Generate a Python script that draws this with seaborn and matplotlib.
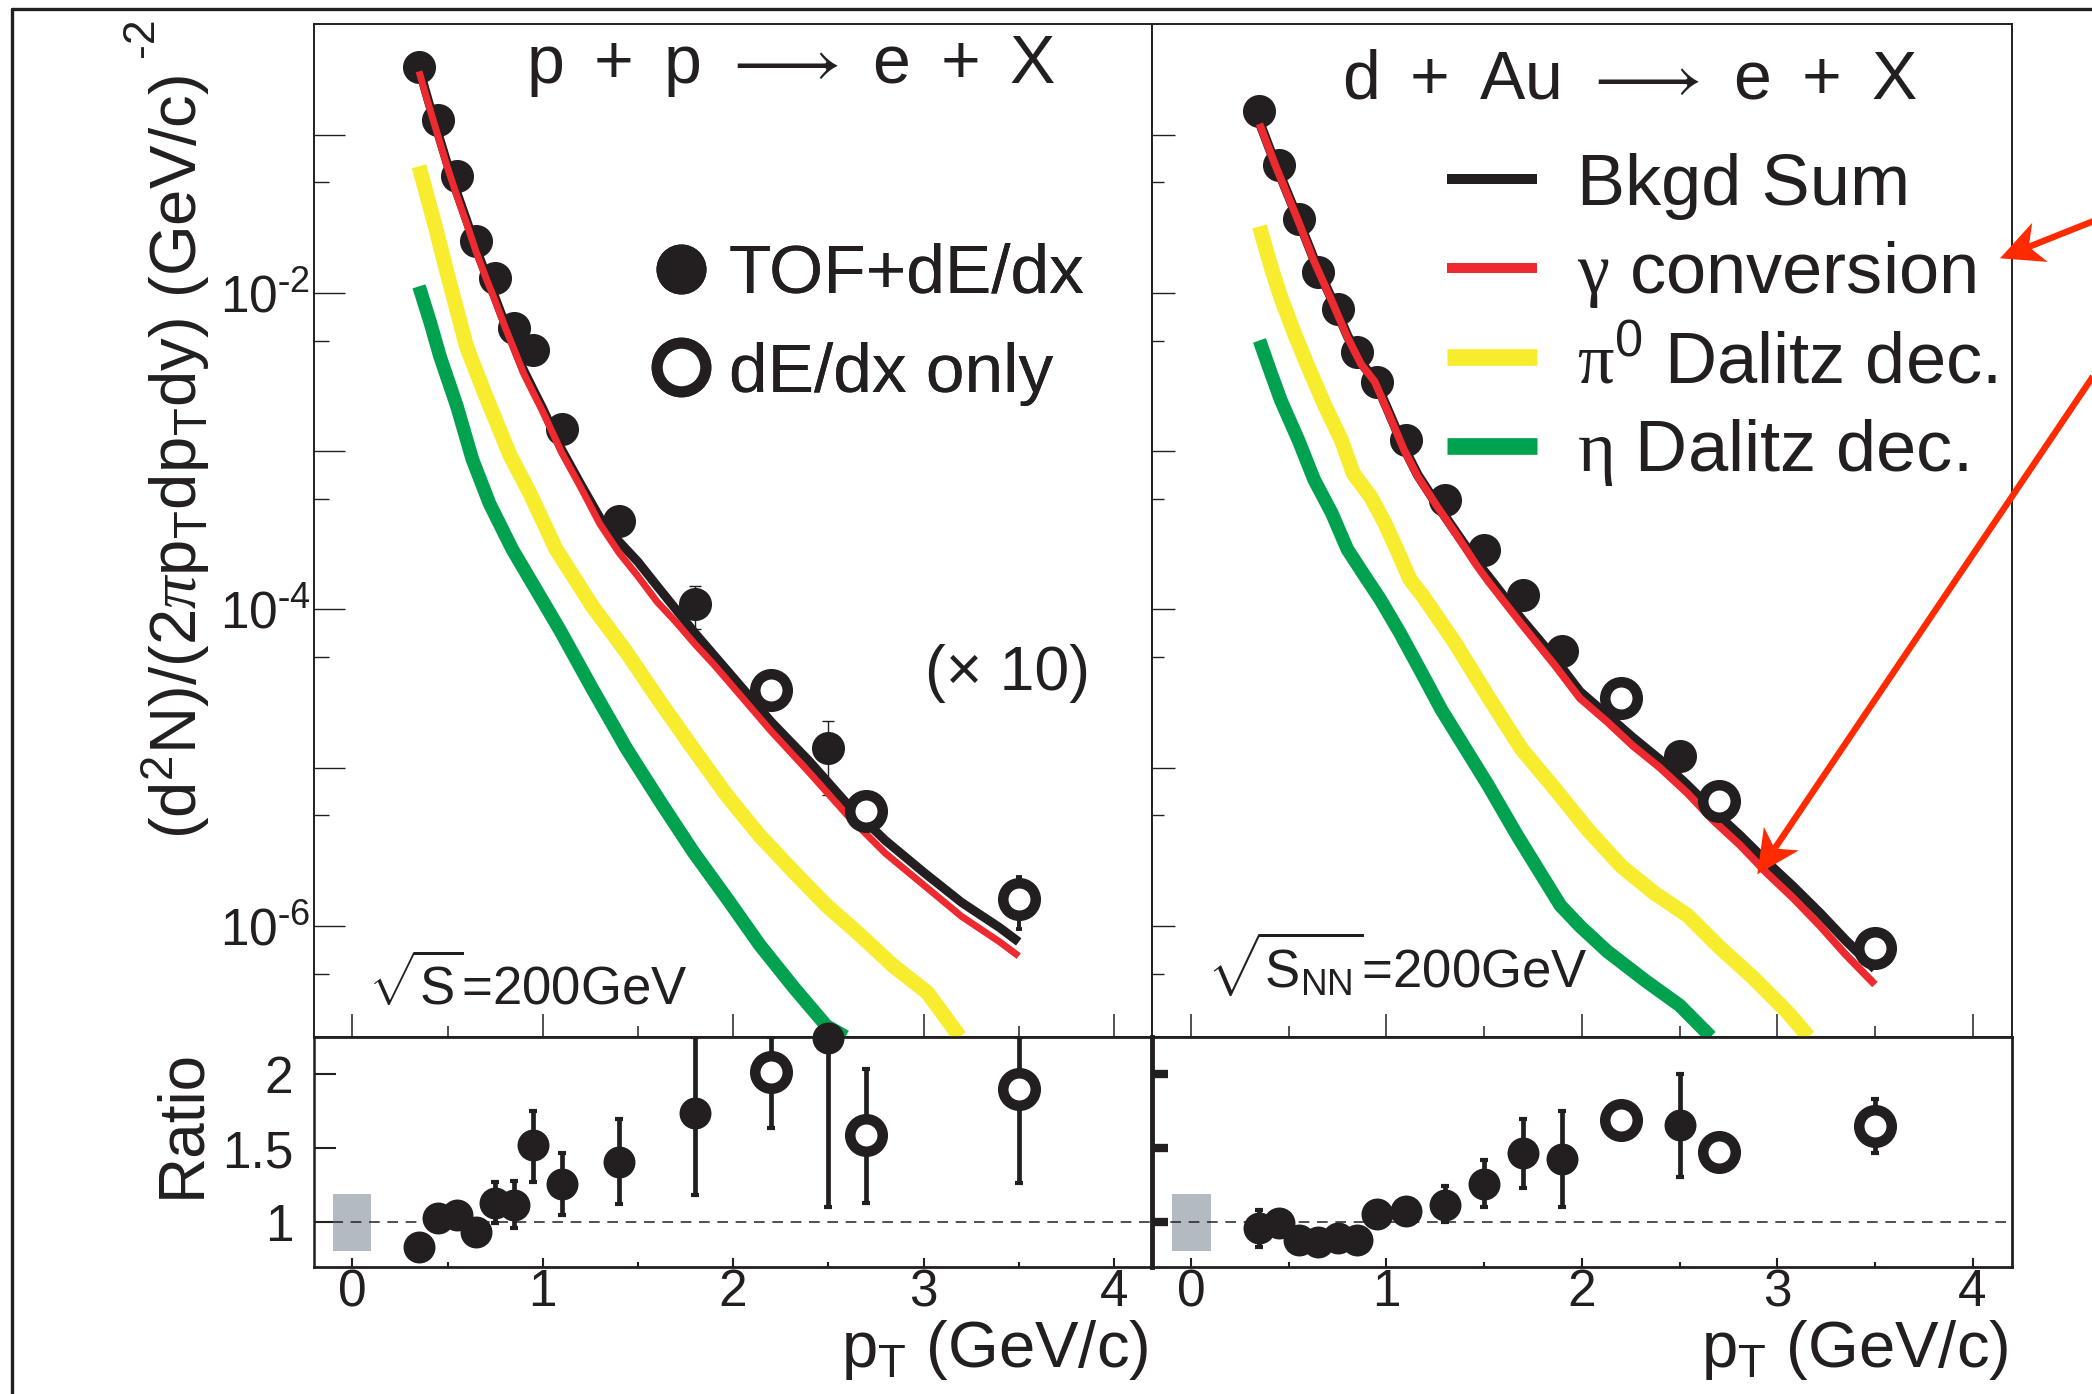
import matplotlib
matplotlib.use("Agg")
import numpy as np
import matplotlib.pyplot as plt
import seaborn as sns
from matplotlib.lines import Line2D
from matplotlib.patches import Rectangle, Polygon
from matplotlib.ticker import FixedLocator, NullFormatter

# ---------------- measured electron spectra (yields, p+p scaled x10) ----------------
pp_tof_pt = [0.35, 0.45, 0.55, 0.65, 0.75, 0.85, 0.95, 1.1, 1.4, 1.8, 2.5]
pp_tof_y = [2.69e-1, 1.23e-1, 5.46e-2, 2.13e-2, 1.24e-2, 5.97e-3, 4.39e-3, 1.38e-3, 3.64e-4, 1.08e-4, 1.33e-5]
pp_tof_lo = [2.69e-1, 1.23e-1, 5.46e-2, 2.13e-2, 1.24e-2, 5.97e-3, 4.39e-3, 1.38e-3, 3.64e-4, 7.5e-5, 6.7e-6]
pp_tof_hi = [2.69e-1, 1.23e-1, 5.46e-2, 2.13e-2, 1.24e-2, 5.97e-3, 4.39e-3, 1.38e-3, 3.64e-4, 1.41e-4, 1.98e-5]
pp_dedx_pt = [2.2, 2.7, 3.5]
pp_dedx_y = [3.09e-5, 5.32e-6, 1.49e-6]
pp_dedx_lo = [3.09e-5, 5.32e-6, 9.6e-7]
pp_dedx_hi = [3.09e-5, 5.32e-6, 2.04e-6]

da_tof_pt = [0.35, 0.45, 0.55, 0.65, 0.75, 0.85, 0.95, 1.1, 1.3, 1.5, 1.7, 1.9, 2.5]
da_tof_y = [1.42e-1, 6.44e-2, 2.94e-2, 1.36e-2, 7.97e-3, 4.21e-3, 2.72e-3, 1.18e-3, 4.94e-4, 2.39e-4, 1.24e-4, 5.47e-5, 1.19e-5]
da_dedx_pt = [2.2, 2.7, 3.5]
da_dedx_y = [2.75e-5, 6.21e-6, 7.31e-7]

# ---------------- ratio data / background ----------------
pp_tof_ratio = [0.83, 1.023, 1.045, 0.932, 1.13, 1.113, 1.52, 1.256, 1.407, 1.74, 2.244]
pp_tof_ratio_lo = [0.79, 0.98, 1.00, 0.89, 0.99, 0.955, 1.271, 1.045, 1.12, 1.18, 1.098]
pp_tof_ratio_hi = [0.87, 1.07, 1.09, 0.98, 1.27, 1.278, 1.753, 1.464, 1.70, 2.25, 2.25]
pp_dedx_ratio = [2.013, 1.588, 1.898]
pp_dedx_ratio_lo = [1.634, 1.125, 1.265]
pp_dedx_ratio_hi = [2.25, 2.034, 2.25]

da_tof_ratio = [0.955, 0.989, 0.876, 0.86, 0.887, 0.876, 1.052, 1.075, 1.113, 1.256, 1.468, 1.423, 1.656]
da_tof_ratio_lo = [0.83, 0.95, 0.84, 0.82, 0.85, 0.84, 1.01, 1.04, 1.00, 1.10, 1.227, 1.098, 1.305]
da_tof_ratio_hi = [1.08, 1.03, 0.92, 0.90, 0.93, 0.92, 1.09, 1.11, 1.24, 1.42, 1.70, 1.753, 2.00]
da_dedx_ratio = [1.69, 1.475, 1.649]
da_dedx_ratio_lo = [1.65, 1.44, 1.464]
da_dedx_ratio_hi = [1.73, 1.51, 1.83]

# normalisation uncertainty band at pT = 0
norm_band = [0.8, 1.19]

# ---------------- background cocktail curves ----------------
pp_sum_pt = [0.35, 0.40, 0.45, 0.50, 0.55, 0.60, 0.65, 0.70, 0.75, 0.80, 0.85, 0.90, 0.95, 1.00,
             1.10, 1.20, 1.30, 1.40, 1.50, 1.60, 1.70, 1.80, 1.90, 2.00, 2.20, 2.40, 2.60, 2.80,
             3.00, 3.20, 3.40, 3.50]
pp_sum = [0.263, 0.162, 0.102, 0.0646, 0.0427, 0.0288, 0.0191, 0.0132, 9.33e-3, 6.46e-3, 4.57e-3,
          3.24e-3, 2.45e-3, 1.86e-3, 1.02e-3, 6.17e-4, 3.80e-4, 2.69e-4, 2.00e-4, 1.41e-4, 1.00e-4,
          7.08e-5, 5.13e-5, 3.72e-5, 1.95e-5, 1.10e-5, 5.89e-6, 3.47e-6, 2.19e-6, 1.41e-6, 9.77e-7, 7.94e-7]
pp_gamma = [0.251, 0.155, 0.0977, 0.0617, 0.0407, 0.0275, 0.0182, 0.0126, 8.91e-3, 6.17e-3, 4.37e-3,
            3.09e-3, 2.34e-3, 1.78e-3, 9.77e-4, 5.89e-4, 3.47e-4, 2.29e-4, 1.62e-4, 1.12e-4, 8.32e-5,
            6.03e-5, 4.47e-5, 3.24e-5, 1.70e-5, 9.33e-6, 5.01e-6, 2.88e-6, 1.82e-6, 1.15e-6, 7.94e-7, 6.46e-7]
pp_pi0_pt = [0.35, 0.44, 0.49, 0.60, 0.70, 0.83, 0.93, 1.07, 1.26, 1.44, 1.62, 1.79, 1.97, 2.14,
             2.32, 2.49, 2.67, 2.84, 3.02, 3.19]
pp_pi0 = [6.31e-2, 2.51e-2, 1.45e-2, 4.57e-3, 2.24e-3, 9.33e-4, 5.50e-4, 2.40e-4, 1.05e-4, 5.37e-5,
          2.57e-5, 1.32e-5, 6.61e-6, 3.72e-6, 2.19e-6, 1.35e-6, 8.71e-7, 5.62e-7, 3.80e-7, 2.0e-7]
pp_eta_pt = [0.35, 0.41, 0.46, 0.55, 0.63, 0.72, 0.84, 1.09, 1.26, 1.44, 1.62, 1.79, 1.97, 2.14,
             2.32, 2.49, 2.59]
pp_eta = [1.10e-2, 6.46e-3, 3.98e-3, 1.91e-3, 8.91e-4, 4.68e-4, 2.40e-4, 7.41e-5, 3.16e-5, 1.32e-5,
          6.03e-6, 2.95e-6, 1.48e-6, 7.59e-7, 4.07e-7, 2.34e-7, 2.0e-7]

da_sum_pt = [0.35, 0.43, 0.48, 0.55, 0.63, 0.72, 0.80, 0.87, 0.94, 1.00, 1.09, 1.16, 1.26, 1.36,
             1.46, 1.52, 1.69, 1.86, 1.99, 2.13, 2.26, 2.40, 2.54, 2.67, 2.81, 2.95, 3.08, 3.22,
             3.35, 3.50]
da_sum = [0.120, 0.0661, 0.0468, 0.0288, 0.0162, 9.12e-3, 5.37e-3, 3.63e-3, 2.82e-3, 1.91e-3, 1.05e-3,
          7.08e-4, 4.57e-4, 3.02e-4, 2.00e-4, 1.62e-4, 8.71e-5, 4.90e-5, 3.02e-5, 2.14e-5, 1.55e-5,
          1.12e-5, 7.76e-6, 5.37e-6, 3.72e-6, 2.51e-6, 1.78e-6, 1.20e-6, 8.13e-7, 5.37e-7]
da_gamma = [0.117, 0.0646, 0.0457, 0.0282, 0.0158, 8.91e-3, 5.25e-3, 3.55e-3, 2.75e-3, 1.86e-3, 1.02e-3,
            6.92e-4, 4.47e-4, 2.95e-4, 1.91e-4, 1.51e-4, 8.13e-5, 4.47e-5, 2.75e-5, 1.95e-5, 1.38e-5,
            1.00e-5, 6.92e-6, 4.68e-6, 3.24e-6, 2.14e-6, 1.51e-6, 1.00e-6, 6.61e-7, 4.27e-7]
da_pi0_pt = [0.35, 0.41, 0.46, 0.53, 0.60, 0.68, 0.77, 0.83, 0.92, 0.99, 1.06, 1.12, 1.19, 1.35,
             1.52, 1.69, 1.86, 2.03, 2.20, 2.37, 2.54, 2.71, 2.88, 3.05, 3.16]
da_pi0 = [2.63e-2, 1.45e-2, 9.33e-3, 5.50e-3, 3.39e-3, 2.00e-3, 1.17e-3, 7.24e-4, 5.13e-4, 3.55e-4,
          2.29e-4, 1.55e-4, 1.20e-4, 6.17e-5, 2.82e-5, 1.32e-5, 7.41e-6, 4.07e-6, 2.40e-6, 1.62e-6,
          1.17e-6, 7.24e-7, 4.68e-7, 2.88e-7, 2.0e-7]
da_eta_pt = [0.35, 0.41, 0.46, 0.55, 0.63, 0.72, 0.80, 0.89, 0.97, 1.07, 1.18, 1.28, 1.52, 1.67,
             1.89, 1.99, 2.13, 2.33, 2.50, 2.66]
da_eta = [5.01e-3, 3.09e-3, 2.09e-3, 1.17e-3, 6.61e-4, 4.07e-4, 2.40e-4, 1.62e-4, 1.15e-4, 7.08e-5,
          3.98e-5, 2.34e-5, 7.76e-6, 3.72e-6, 1.35e-6, 1.00e-6, 6.92e-7, 4.47e-7, 3.16e-7, 2.0e-7]

x_ticks = [0, 1, 2, 3, 4]
x_minor = [0.5, 1.5, 2.5, 3.5]
y_decades = [1e-6, 1e-5, 1e-4, 1e-3, 1e-2, 1e-1]
y_halves = [5e-7, 5e-6, 5e-5, 5e-4, 5e-3, 5e-2]
y_labels = [r"$10^{\text{-}6}$", "", r"$10^{\text{-}4}$", "", r"$10^{\text{-}2}$", ""]
ratio_ticks = [1, 1.5, 2]
ratio_labels = ["1", "1.5", "2"]

# ---------------- style ----------------
BLACK = "#231f20"
RED = "#ec2a30"
YELLOW = "#f8ec2e"
GREEN = "#00a24f"
BAND = "#b3bac2"
ARROW = "#ff2a00"

sns.set_theme(style="ticks")
plt.rcParams["font.family"] = ["Liberation Sans", "DejaVu Sans"]
plt.rcParams["mathtext.fontset"] = "custom"
plt.rcParams["mathtext.rm"] = "Liberation Serif"
plt.rcParams["mathtext.it"] = "Liberation Serif:italic"
plt.rcParams["mathtext.default"] = "regular"
plt.rcParams["axes.unicode_minus"] = False
plt.rcParams["text.color"] = BLACK

W, H = 2092, 1394
fig = plt.figure(figsize=(W / 100, H / 100), dpi=100)
fig.patch.set_facecolor("white")


def fxy(px, py):
    return px / W, 1 - py / H


def add_axes(x0, x1, y0, y1):
    return fig.add_axes([x0 / W, 1 - y1 / H, (x1 - x0) / W, (y1 - y0) / H])


L0, L1, R0, R1 = 314.3, 1152.0, 1152.0, 2011.7
TOP, MID, BOT = 24.0, 1036.7, 1266.7
ax_pp = add_axes(L0, L1, TOP, MID)
ax_ppr = add_axes(L0, L1, MID, BOT)
ax_da = add_axes(R0, R1, TOP, MID)
ax_dar = add_axes(R0, R1, MID, BOT)

for ax in (ax_pp, ax_ppr, ax_da, ax_dar):
    ax.set_facecolor("white")
    for s in ax.spines.values():
        s.set_color(BLACK)
        s.set_visible(True)


# ---------------- spectra panels ----------------
def spectra_panel(ax, curves, tof, dedx, major_len, minor_len, show_labels):
    ax.set_yscale("log")
    for x, y, color, lw in curves:
        sns.lineplot(x=x, y=y, ax=ax, color=color, linewidth=lw, sort=False, estimator=None,
                     solid_capstyle="butt", solid_joinstyle="round", clip_on=False, zorder=3)
    x, y, lo, hi = tof
    y = np.asarray(y)
    ax.errorbar(x, y, yerr=[y - np.asarray(lo), np.asarray(hi) - y], fmt="none",
                ecolor=BLACK, elinewidth=1.0, capsize=4.3, capthick=1.0, zorder=1.5)
    ax.plot(x, y, ls="none", marker="o", ms=23.8, mfc=BLACK, mew=0, zorder=2)
    x, y, lo, hi = dedx
    y = np.asarray(y)
    ax.errorbar(x, y, yerr=[y - np.asarray(lo), np.asarray(hi) - y], fmt="none",
                ecolor=BLACK, elinewidth=2.8, capsize=2.4, capthick=2.8, zorder=3.5)
    ax.plot(x, y, ls="none", marker="o", ms=23.4, mfc="white", mec=BLACK, mew=7.6, zorder=4)

    ax.set_yticks(y_decades, labels=y_labels if show_labels else [""] * len(y_decades))
    ax.yaxis.set_minor_locator(FixedLocator(y_halves))
    ax.yaxis.set_minor_formatter(NullFormatter())
    ax.set_xticks(x_ticks, labels=[""] * len(x_ticks))
    ax.set_xticks(x_minor, minor=True)
    ax.set_xlim(-0.2, 4.2)
    ax.set_ylim(2e-7, 0.5)
    ax.tick_params(axis="y", which="major", direction="in", length=major_len, width=1.0,
                   labelsize=37, pad=3, left=True, right=False, colors=BLACK)
    ax.tick_params(axis="y", which="minor", direction="in", length=minor_len, width=1.0,
                   left=True, right=False, colors=BLACK)
    ax.tick_params(axis="x", which="major", direction="in", length=16.5, width=1.1,
                   bottom=True, top=False, labelbottom=False, colors=BLACK)
    ax.tick_params(axis="x", which="minor", direction="in", length=8, width=1.1,
                   bottom=True, top=False, colors=BLACK)
    for s in ax.spines.values():
        s.set_linewidth(1.4)
    ax.set_xlabel("")
    ax.set_ylabel("")


spectra_panel(ax_pp,
              [(pp_eta_pt, pp_eta, GREEN, 9.8), (pp_pi0_pt, pp_pi0, YELLOW, 10.8),
               (pp_sum_pt, pp_sum, BLACK, 6.5), (pp_sum_pt, pp_gamma, RED, 5.0)],
              (pp_tof_pt, pp_tof_y, pp_tof_lo, pp_tof_hi),
              (pp_dedx_pt, pp_dedx_y, pp_dedx_lo, pp_dedx_hi), 22, 11, True)
spectra_panel(ax_da,
              [(da_eta_pt, da_eta, GREEN, 9.8), (da_pi0_pt, da_pi0, YELLOW, 10.8),
               (da_sum_pt, da_sum, BLACK, 7.0), (da_sum_pt, da_gamma, RED, 5.5)],
              (da_tof_pt, da_tof_y, da_tof_y, da_tof_y),
              (da_dedx_pt, da_dedx_y, da_dedx_y, da_dedx_y), 16.5, 8.6, False)


# ---------------- ratio panels ----------------
def ratio_panel(ax, tof, dedx, left_tick_width, left_tick_len, show_labels, left_spine_w):
    ax.add_patch(Rectangle((-0.1, norm_band[0]), 0.2, norm_band[1] - norm_band[0],
                           facecolor=BAND, edgecolor="none", zorder=1))
    ax.axhline(1.0, color=BLACK, lw=1.1, ls=(0, (7, 5)), zorder=1.2)
    for (x, y, lo, hi), filled in ((tof, True), (dedx, False)):
        y = np.asarray(y)
        ax.errorbar(x, y, yerr=[y - np.asarray(lo), np.asarray(hi) - y], fmt="none",
                    ecolor=BLACK, elinewidth=3.4, capsize=2.6, capthick=3.0, zorder=2)
        if filled:
            ax.plot(x, y, ls="none", marker="o", ms=23.0, mfc=BLACK, mew=0, zorder=3, clip_on=False)
        else:
            ax.plot(x, y, ls="none", marker="o", ms=23.4, mfc="white", mec=BLACK, mew=7.6,
                    zorder=3, clip_on=False)
    ax.set_xticks(x_ticks, labels=[str(t) for t in x_ticks])
    ax.set_xticks(x_minor, minor=True)
    ax.set_yticks(ratio_ticks, labels=ratio_labels if show_labels else [""] * 3)
    ax.set_xlim(-0.2, 4.2)
    ax.set_ylim(0.695, 2.255)
    ax.tick_params(axis="x", which="major", direction="in", length=6.5, width=1.5,
                   labelsize=37, pad=1, top=False, colors=BLACK)
    ax.tick_params(axis="x", which="minor", direction="in", length=3.6, width=1.5,
                   top=False, colors=BLACK)
    ax.tick_params(axis="y", which="major", direction="in", length=left_tick_len,
                   width=left_tick_width, labelsize=37, pad=15, right=False, colors=BLACK)
    ax.tick_params(axis="y", which="minor", left=False, right=False)
    for s in ax.spines.values():
        s.set_linewidth(2.0)
    ax.spines["left"].set_linewidth(left_spine_w)
    ax.set_xlabel("")
    ax.set_ylabel("")


ratio_panel(ax_ppr,
            (pp_tof_pt, pp_tof_ratio, pp_tof_ratio_lo, pp_tof_ratio_hi),
            (pp_dedx_pt, pp_dedx_ratio, pp_dedx_ratio_lo, pp_dedx_ratio_hi), 1.5, 16, True, 1.8)
ratio_panel(ax_dar,
            (da_tof_pt, da_tof_ratio, da_tof_ratio_lo, da_tof_ratio_hi),
            (da_dedx_pt, da_dedx_ratio, da_dedx_ratio_lo, da_dedx_ratio_hi), 6.0, 11.5, False, 3.5)

# ---------------- labels and annotations ----------------
ax_pp.text(0.5685, 0.9414, r"p $\,$+ $\,$p $\longrightarrow$ e $\,$+ $\,$X",
           transform=ax_pp.transAxes, fontsize=49, ha="center", va="baseline",
           math_fontfamily="dejavusans")
ax_da.text(0.5554, 0.926, r"d $\,$+ $\,$Au $\longrightarrow$ e $\,$+ $\,$X",
           transform=ax_da.transAxes, fontsize=49, ha="center", va="baseline",
           math_fontfamily="dejavusans")
ax_pp.text(0.827, 0.3424, "(\u00d7 10)", transform=ax_pp.transAxes, fontsize=45,
           ha="center", va="baseline")
ax_pp.text(0.0641, 0.0313, r"$\sqrt{S}$=200GeV", transform=ax_pp.transAxes, fontsize=38,
           ha="left", va="baseline")
ax_da.text(0.0636, 0.0478, r"$\sqrt{S_{NN}}$=200GeV", transform=ax_da.transAxes, fontsize=38,
           ha="left", va="baseline")

pp_handles = [Line2D([], [], ls="none", marker="o", ms=36, mfc=BLACK, mew=0),
              Line2D([], [], ls="none", marker="o", ms=35, mfc="white", mec=BLACK, mew=8)]
leg1 = ax_pp.legend(pp_handles, ["TOF+dE/dx", "dE/dx only"], loc="upper left",
                    bbox_to_anchor=(0.4043, 0.7838), frameon=False, fontsize=50,
                    handlelength=0.8, handletextpad=0.29, labelspacing=0.50,
                    borderpad=0, borderaxespad=0)
ax_pp.add_artist(leg1)

da_handles = [Line2D([], [], color=BLACK, lw=7.2, solid_capstyle="butt"),
              Line2D([], [], color=RED, lw=7.2, solid_capstyle="butt"),
              Line2D([], [], color=YELLOW, lw=12, solid_capstyle="butt"),
              Line2D([], [], color=GREEN, lw=12, solid_capstyle="butt")]
da_labels = ["Bkgd Sum", r"$\mathrm{\gamma}$ conversion", r"$\mathrm{\pi}^0$ Dalitz dec.",
             r"$\mathrm{\eta}$ Dalitz dec."]
ax_da.legend(da_handles, da_labels, loc="upper left", bbox_to_anchor=(0.3428, 0.8729),
             frameon=False, fontsize=52, handlelength=1.25, handletextpad=0.55,
             labelspacing=0.27, borderpad=0, borderaxespad=0)

fig.text(197 / W, 1 - 457 / H, r"(d$^2$N)/(2$\mathit{\pi}$p$_T$dp$_T$dy) (GeV/c)",
         rotation=90, rotation_mode="anchor", fontsize=47, ha="center", va="baseline")
fig.text(153 / W, 1 - 37 / H, "-2", rotation=90, rotation_mode="anchor", fontsize=32,
         ha="center", va="baseline")
fig.text(199 / W, 1 - 1123 / H, "Ratio", rotation=90, rotation_mode="anchor", fontsize=46,
         ha="center", va="baseline")
for right_px in (1148.0, 2008.0):
    fig.text(right_px / W, 1 - 1366.7 / H, r"p$_T$ (GeV/c)", fontsize=47,
             ha="right", va="baseline")

# outer frame of the figure
fig.add_artist(Line2D([12 / W, 1.0], [1 - 8.5 / H, 1 - 8.5 / H], color=BLACK, lw=2.4))
fig.add_artist(Line2D([12 / W, 12 / W], [0.0, 1 - 8.5 / H], color=BLACK, lw=2.4))


def red_arrow(tail_px, tip_px, head_len=43.0, head_half=21.0, notch=12.0, lw=4.6):
    t = np.array(tail_px, float)
    p = np.array(tip_px, float)
    u = (p - t) / np.hypot(*(p - t))
    n = np.array([-u[1], u[0]])
    back = p - head_len * u
    inner = p - (head_len - notch) * u
    a, b = fxy(*t), fxy(*inner)
    fig.add_artist(Line2D([a[0], b[0]], [a[1], b[1]], color=ARROW, lw=lw, solid_capstyle="butt"))
    pts = [fxy(*q) for q in (p, back + head_half * n, inner, back - head_half * n)]
    fig.add_artist(Polygon(pts, closed=True, facecolor=ARROW, edgecolor="none",
                           transform=fig.transFigure))


red_arrow((2100.0, 218.5), (2000.0, 258.3))
red_arrow((2100.0, 366.0), (1757.3, 874.3))

fig.savefig("out.png", dpi=100, facecolor="white")
